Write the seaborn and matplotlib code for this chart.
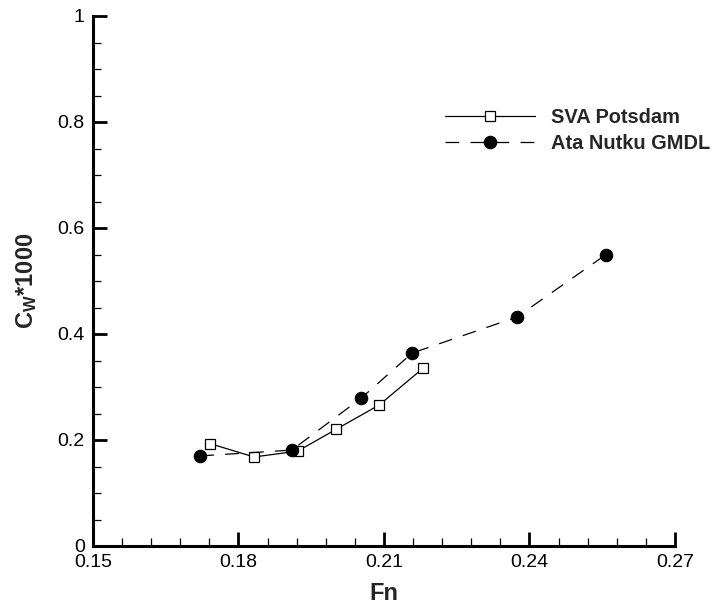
import matplotlib
matplotlib.use("Agg")
import matplotlib.pyplot as plt
import seaborn as sns
import pandas as pd
from matplotlib.ticker import MultipleLocator

# ---- data ----
fn_sva = [0.1742, 0.1832, 0.1922, 0.2001, 0.2090, 0.2180]
cw_sva = [0.193, 0.168, 0.179, 0.220, 0.266, 0.335]
fn_ata = [0.1721, 0.1910, 0.2053, 0.2158, 0.2374, 0.2558]
cw_ata = [0.170, 0.181, 0.279, 0.364, 0.432, 0.550]
x_ticks = [0.15, 0.18, 0.21, 0.24, 0.27]
x_tick_labels = ["0.15", "0.18", "0.21", "0.24", "0.27"]
y_ticks = [0, 0.2, 0.4, 0.6, 0.8, 1.0]
y_tick_labels = ["0", "0.2", "0.4", "0.6", "0.8", "1"]
series_names = ["SVA Potsdam", "Ata Nutku GMDL"]

sns.set_style("ticks")
plt.rcParams["font.family"] = ["Liberation Sans", "DejaVu Sans"]
plt.rcParams["mathtext.fontset"] = "custom"
plt.rcParams["mathtext.rm"] = "Liberation Sans"
plt.rcParams["mathtext.bf"] = "Liberation Sans:bold"

fig = plt.figure(figsize=(7.2, 6.09), dpi=100)
ax = fig.add_axes([93 / 720, 1 - 546 / 609, (675 - 93) / 720, (546 - 16) / 609])

df_sva = pd.DataFrame({"Fn": fn_sva, "Cw": cw_sva})
df_ata = pd.DataFrame({"Fn": fn_ata, "Cw": cw_ata})

sns.lineplot(data=df_sva, x="Fn", y="Cw", ax=ax, color="black", linewidth=0.9,
             marker="s", markersize=7, markerfacecolor="white",
             markeredgecolor="black", markeredgewidth=0.9,
             label=series_names[0], errorbar=None)
sns.lineplot(data=df_ata, x="Fn", y="Cw", ax=ax, color="black", linewidth=0.9,
             marker="o", markersize=9, markerfacecolor="black",
             markeredgecolor="black", dashes=False,
             label=series_names[1], errorbar=None)
ax.lines[1].set_dashes((11, 9))

ax.set_xlim(0.15, 0.27)
ax.set_ylim(0, 1.0)
ax.set_xticks(x_ticks)
ax.set_xticklabels(x_tick_labels)
ax.set_yticks(y_ticks)
ax.set_yticklabels(y_tick_labels)
ax.xaxis.set_minor_locator(MultipleLocator(0.006))
ax.yaxis.set_minor_locator(MultipleLocator(0.05))

for s in ["top", "right"]:
    ax.spines[s].set_visible(False)
for s in ["left", "bottom"]:
    ax.spines[s].set_linewidth(2.2)
    ax.spines[s].set_color("black")

ax.tick_params(which="major", direction="in", length=10, width=2.0,
               labelsize=14, pad=6, colors="black")
ax.tick_params(which="minor", direction="in", length=5.5, width=0.9,
               colors="black")

ax.set_xlabel("Fn", fontsize=17, fontweight="bold", labelpad=8)
ax.set_ylabel(r"$\mathbf{C_{W}}$*1000", fontsize=17, fontweight="bold",
              labelpad=13)

leg = ax.legend(loc="center left", bbox_to_anchor=(445 / 720, 1 - 130.5 / 609),
                bbox_transform=fig.transFigure, frameon=False,
                prop={"family": "Liberation Sans", "weight": "bold", "size": 14.4},
                handlelength=4.5, handletextpad=0.8, labelspacing=0.35,
                borderpad=0, borderaxespad=0)

fig.savefig("out.png", dpi=100)
